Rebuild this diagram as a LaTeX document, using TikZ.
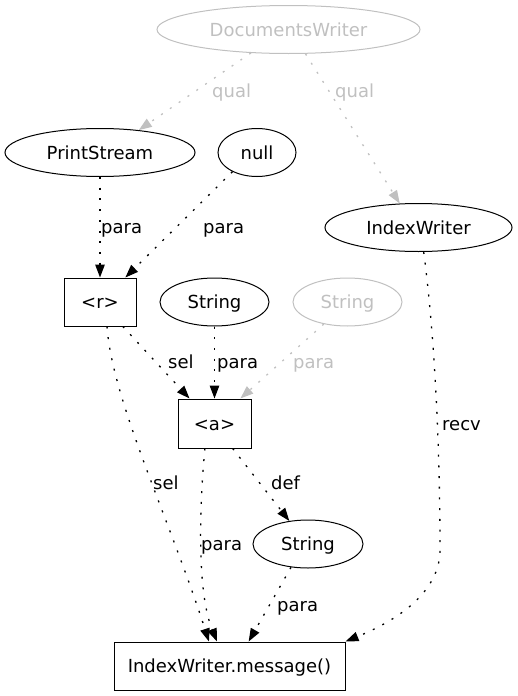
\documentclass[tikz,border=0pt]{standalone}
\usepackage{fontspec}
\setmainfont{DejaVu Sans}
\usetikzlibrary{arrows.meta,shapes.geometric}
\definecolor{lg}{RGB}{192,192,192}
\begin{document}
\begin{tikzpicture}[x=1pt,y=-1pt,
  every node/.style={font=\fontsize{18}{21}\selectfont, text height=13pt, text depth=0pt, inner sep=0pt},
  ell/.style={draw, ellipse, line width=1pt, minimum height=48pt},
  box/.style={draw, rectangle, line width=1pt, minimum height=48pt},
  gr/.style={draw=lg, text=lg},
  edge/.style={line width=1.3pt, dash pattern=on 2pt off 8.7pt, -{Triangle[length=13pt,width=9.5pt]}},
  gedge/.style={edge, color=lg},
  lab/.style={anchor=west},
  glab/.style={anchor=west, text=lg}
]
\useasboundingbox (0,0) rectangle (517,696);
% nodes
\node[ell, gr, minimum width=263pt] (dw) at (288.5,29.5) {DocumentsWriter};
\node[ell, minimum width=190pt] (ps) at (100,152.5) {PrintStream};
\node[ell, minimum width=78pt] (nl) at (257,152.5) {null};
\node[ell, minimum width=187pt] (iw) at (418.5,227.5) {IndexWriter};
\node[box, minimum width=72pt] (r) at (100,302) {<r>};
\node[ell, minimum width=109pt] (s1) at (214.5,302) {String};
\node[ell, gr, minimum width=109pt] (s2) at (347.5,302) {String};
\node[box, minimum width=73pt, minimum height=49pt] (a) at (214.5,423.5) {<a>};
\node[ell, minimum width=110pt] (s3) at (308,544) {String};
\node[box, minimum width=231pt] (msg) at (229.5,666) {IndexWriter.message()};
% edges
\draw[gedge] (dw.-148) -- (ps.30);
\draw[gedge] (dw.-55) -- (iw.128);
\draw[edge] (ps.south) -- (r.north);
\draw[edge] (nl.-142) -- (r.44);
\draw[edge] (r.-47) -- (a.135);
\draw[edge] (s1.south) -- (a.north);
\draw[gedge] (s2.-137) -- (a.44);
\draw[edge] (r.-74) .. controls (112,400) and (170,520) .. (msg.130);
\draw[edge] (a.-111) .. controls (200,500) and (196,590) .. (msg.117.5);
\draw[edge] (a.-54.5) -- (s3.129.6);
\draw[edge] (s3.-126.7) -- (msg.52.4);
\draw[edge] (iw.-78) .. controls (434,330) and (440,440) .. (440,550) .. controls (440,585) and (410,615) .. (msg.north east);
% labels
\node[glab] (l1) at (212,91) {qual};
\node[glab] (l2) at (335,91) {qual};
\node[lab] (l3) at (101,227) {para};
\node[lab] (l4) at (203,227) {para};
\node[lab] (l5) at (168,362) {sel};
\node[lab] (l6) at (217,362) {para};
\node[glab] (l7) at (293,362) {para};
\node[lab] (l8) at (153,483) {sel};
\node[lab] (l9) at (201,544) {para};
\node[lab] (l10) at (271,483) {def};
\node[lab] (l11) at (277,605) {para};
\node[lab] (l12) at (442,424) {recv};
\end{tikzpicture}
\end{document}
